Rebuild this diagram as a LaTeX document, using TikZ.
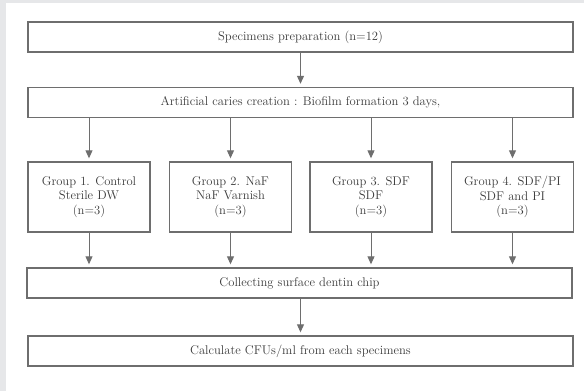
\documentclass[tikz,border=0pt]{standalone}
\usetikzlibrary{arrows.meta}
\definecolor{mygray}{HTML}{E6E7E9}
\definecolor{myline}{HTML}{6E6E6E}
\definecolor{mytext}{HTML}{3C3C3C}

\begin{document}
\begin{tikzpicture}[
    x=1pt, y=-1pt,
    every node/.style={font=\fontsize{12.6}{14.5}\selectfont, text=mytext},
    stepbox/.style={draw=myline, line width=1.4pt, fill=white, align=center,
        minimum width=545pt, minimum height=30pt, inner sep=0pt},
    groupbox/.style={stepbox, minimum width=122pt, minimum height=70pt},
    flow/.style={draw=myline, line width=1pt, shorten >=3pt,
        -{Triangle[length=8pt, width=7pt]}}
]

    % --- 1. PAGE AND BACKGROUND ---
    \useasboundingbox (0,0) rectangle (584,391);
    \fill[mygray] (0,0) rectangle (584,391);
    \fill[white] (6,3) rectangle (584,391);

    % --- 2. MAIN STEPS ---
    \node[stepbox] (prep) at (300.5, 37) {Specimens preparation (n=12)};
    \node[stepbox] (caries) at (300.5, 102.5) {Artificial caries creation : Biofilm formation 3 days,};
    \node[stepbox] (collect) at (299.5, 283) {Collecting surface dentin chip};
    \node[stepbox] (calc) at (300.5, 351) {Calculate CFUs/ml from each specimens};

    % --- 3. TREATMENT GROUPS ---
    \def\gy{197}
    \node[groupbox] (g1) at (89, \gy) {Group 1. Control\\Sterile DW\\(n=3)};
    \node[groupbox] (g2) at (230.5, \gy) {Group 2. NaF\\NaF Varnish\\(n=3)};
    \node[groupbox] (g3) at (371, \gy) {Group 3. SDF\\SDF\\(n=3)};
    \node[groupbox] (g4) at (512.5, \gy) {Group 4. SDF/PI\\SDF and PI\\(n=3)};

    % --- 4. CONNECTORS ---
    \draw[flow] (prep.south -| caries) -- (caries.north);
    \foreach \g in {g1, g2, g3, g4} {
        \draw[flow] (caries.south -| \g) -- (\g.north);
        \draw[flow] (\g.south) -- (collect.north -| \g);
    }
    \draw[flow] (collect.south -| calc) -- (calc.north);

\end{tikzpicture}
\end{document}
